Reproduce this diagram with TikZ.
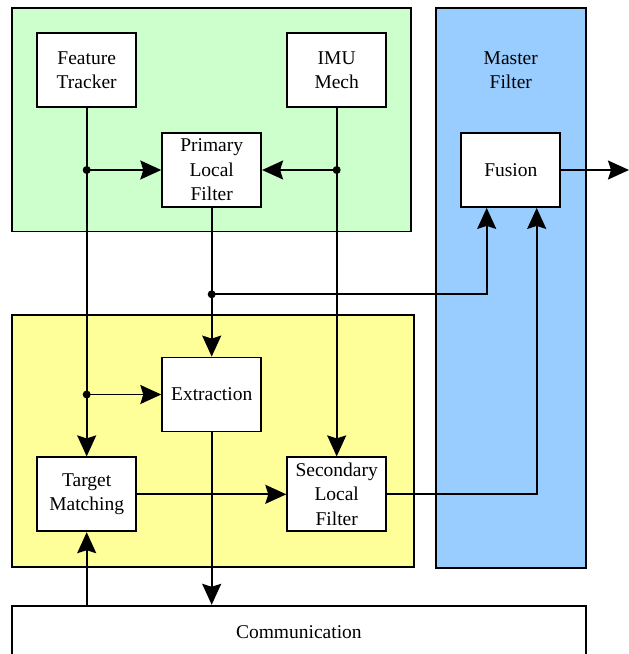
\documentclass[tikz,border=0pt]{standalone}
\usepackage{fontspec}
\setmainfont{Liberation Serif}
\usetikzlibrary{arrows.meta}
\definecolor{grn}{HTML}{CCFFCC}
\definecolor{ylw}{HTML}{FFFF99}
\definecolor{blu}{HTML}{99CCFF}
\tikzset{
  txt/.style={font=\fontsize{19.5}{24.5}\selectfont, align=center},
  region/.style={draw, line width=1.8pt, inner sep=0pt},
  blk/.style={txt, draw, line width=1.8pt, fill=white, minimum width=99pt, minimum height=74pt, inner sep=0pt},
  conn/.style={line width=1.8pt},
  arr/.style={conn, -{Stealth[length=21pt,width=19pt,inset=3pt]}},
  jdot/.style={circle, fill, inner sep=0pt, minimum size=8pt}
}
\begin{document}
\begin{tikzpicture}[x=1pt,y=-1pt]
\useasboundingbox (0,0) rectangle (629,654);
\clip (0,0) rectangle (629,654);
% regions
\node[region, fill=grn, minimum width=399pt, minimum height=223.5pt] (green) at (211.5,119.75) {};
\node[region, fill=ylw, minimum width=402.3pt, minimum height=252.6pt] (yellow) at (213.15,441) {};
\node[region, fill=blu, minimum width=149.7pt, minimum height=559.7pt] (blue) at (510.85,287.85) {};
\node[txt] (mlabel) at (510.8,70) {Master\\Filter};
% blocks
\node[blk] (ft) at (86.7,70) {Feature\\Tracker};
\node[blk] (imu) at (336.7,70) {IMU\\Mech};
\node[blk] (plf) at (211.7,170) {Primary\\Local\\Filter};
\node[blk] (fus) at (510.8,170) {Fusion};
\node[blk] (ext) at (211.7,394.5) {Extraction};
\node[blk] (tm) at (86.7,494.3) {Target\\Matching};
\node[blk] (slf) at (336.7,494.3) {Secondary\\Local\\Filter};
\node[txt, draw, line width=1.8pt, fill=white, minimum width=573.7pt, minimum height=60pt, inner sep=0pt] (comm) at (298.85,635.7) {};
\node[txt] (commt) at (298.85,632) {Communication};
% junctions
\coordinate (j1) at (86.7,170);
\coordinate (j2) at (336.7,170);
\coordinate (j3) at (211.7,294.3);
\coordinate (j4) at (86.7,394.5);
\coordinate (out) at (629,170);
% connectors
\draw[arr] (ft.south) -- (tm.north);
\draw[arr] (imu.south) -- (slf.north);
\draw[arr] (j1) -- (plf.west);
\draw[arr] (j2) -- (plf.east);
\draw[arr] (plf.south) -- (ext.north);
\draw[arr] (j3) -| ([xshift=-24.1pt]fus.south);
\draw[arr] (j4) -- (ext.west);
\draw[arr] (tm.east) -- (slf.west);
\draw[arr] (slf.east) -| ([xshift=25.9pt]fus.south);
\draw[arr] (ext.south) -- (ext.south |- comm.north);
\draw[arr] (tm.south |- comm.north) -- (tm.south);
\draw[arr] (fus.east) -- (out);
% dots
\node[jdot] at (j1) {};
\node[jdot] at (j2) {};
\node[jdot] at (j3) {};
\node[jdot] at (j4) {};
\end{tikzpicture}
\end{document}
